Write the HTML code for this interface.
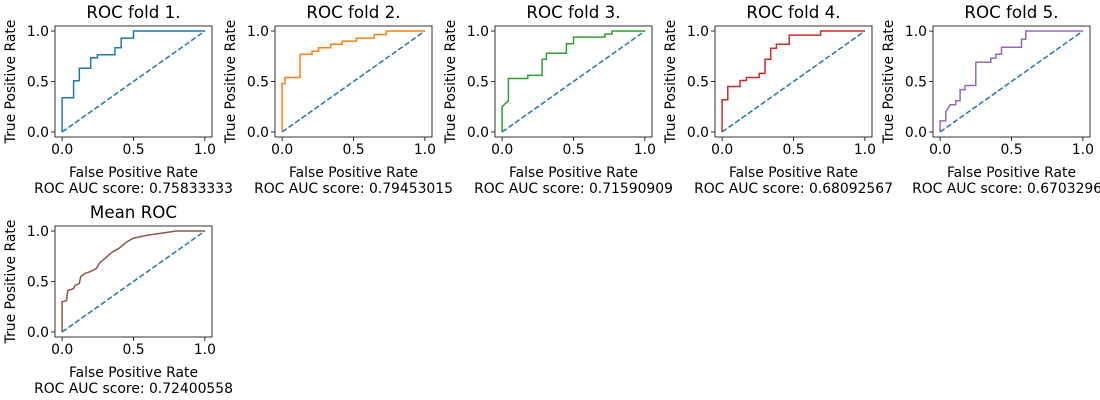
<!DOCTYPE html>
<html><head><meta charset="utf-8"><style>
body{margin:0;background:#fff;width:1100px;height:400px;overflow:hidden}
svg{display:block;font-family:"DejaVu Sans","Liberation Sans",sans-serif}
</style></head><body>
<svg id="chart" width="1100" height="400" viewBox="0 0 1100 400"></svg>
<script>
const titles=["ROC fold 1.","ROC fold 2.","ROC fold 3.","ROC fold 4.","ROC fold 5.","Mean ROC"];
const aucScores=["0.75833333","0.79453015","0.71590909","0.68092567","0.67032967","0.72400558"];
const colors=["#1f77b4","#ff7f0e","#2ca02c","#d62728","#9467bd","#8c564b"];
const tickValues=[0,0.5,1];
const tickLabels=["0.0","0.5","1.0"];
const fpr1=[0,0,0.08,0.08,0.12,0.12,0.2,0.2,0.247,0.247,0.37,0.37,0.414,0.414,0.5,0.5,1];
const tpr1=[0,0.338,0.338,0.507,0.507,0.632,0.632,0.735,0.735,0.765,0.765,0.834,0.834,0.93,0.93,1,1];
const fpr2=[0,0,0.02,0.02,0.126,0.126,0.21,0.21,0.255,0.255,0.34,0.34,0.42,0.42,0.52,0.52,0.645,0.645,0.73,0.73,1];
const tpr2=[0,0.48,0.48,0.54,0.54,0.77,0.77,0.8,0.8,0.835,0.835,0.87,0.87,0.9,0.9,0.93,0.93,0.965,0.965,1,1];
const fpr3=[0,0,0.044,0.044,0.18,0.18,0.28,0.28,0.31,0.31,0.45,0.45,0.5,0.5,0.72,0.72,0.77,0.77,1];
const tpr3=[0,0.25,0.31,0.53,0.53,0.56,0.56,0.72,0.72,0.78,0.78,0.875,0.875,0.94,0.94,0.97,0.97,1,1];
const fpr4=[0,0,0.04,0.04,0.125,0.125,0.17,0.17,0.26,0.26,0.3,0.3,0.34,0.34,0.38,0.38,0.47,0.47,0.69,0.69,1];
const tpr4=[0,0.32,0.32,0.45,0.45,0.51,0.51,0.54,0.54,0.58,0.58,0.72,0.72,0.83,0.83,0.87,0.87,0.96,0.96,1,1];
const fpr5=[0,0,0.04,0.04,0.07,0.11,0.11,0.14,0.14,0.175,0.175,0.25,0.25,0.355,0.355,0.39,0.39,0.43,0.43,0.57,0.57,0.6,0.6,1];
const tpr5=[0,0.11,0.11,0.2,0.27,0.27,0.31,0.31,0.42,0.42,0.46,0.46,0.69,0.69,0.73,0.73,0.77,0.77,0.84,0.84,0.92,0.92,1,1];
const fprM=[0,0,0.03,0.04,0.08,0.09,0.12,0.13,0.16,0.2,0.24,0.26,0.3,0.35,0.4,0.45,0.5,0.6,0.7,0.8,1];
const tprM=[0,0.3,0.31,0.41,0.43,0.46,0.48,0.55,0.58,0.6,0.63,0.68,0.73,0.79,0.83,0.89,0.93,0.96,0.98,1,1];
const fprs=[fpr1,fpr2,fpr3,fpr4,fpr5,fprM];
const tprs=[tpr1,tpr2,tpr3,tpr4,tpr5,tprM];
const panels=[[55,26],[275,26],[495,26],[715,26],[933,26],[55,226]];
const W=157,H=111;
const svg=document.getElementById('chart');
const NS="http://www.w3.org/2000/svg";
function mk(tag,attrs,parent){const e=document.createElementNS(NS,tag);for(const k in attrs)e.setAttribute(k,attrs[k]);parent.appendChild(e);return e;}
panels.forEach((p,i)=>{
  const [L,T]=p;
  const sx=v=>L+(v+0.05)/1.1*W, sy=v=>T+H-(v+0.05)/1.1*H;
  const g=mk('g',{},svg);
  
  
  const t=mk('text',{x:L+W/2,y:T-8,'text-anchor':'middle','font-size':'16.7'},g);t.textContent=titles[i];
  
  
  tickValues.forEach((v,j)=>{
    mk('line',{x1:sx(v),x2:sx(v),y1:T+H,y2:T+H+4,stroke:'#000','stroke-width':0.8},g);
    const xt=mk('text',{x:sx(v),y:T+H+17,'text-anchor':'middle','font-size':'13.9'},g);xt.textContent=tickLabels[j];
    
    
    mk('line',{x1:L-4,x2:L,y1:sy(v),y2:sy(v),stroke:'#000','stroke-width':0.8},g);
    const yt=mk('text',{x:L-6,y:sy(v)+5,'text-anchor':'end','font-size':'13.9'},g);yt.textContent=tickLabels[j];
    
    
  });
  const d=mk('line',{x1:sx(0),y1:sy(0),x2:sx(1),y2:sy(1),stroke:'#1f77b4','stroke-width':1.5,'stroke-dasharray':'5.5,2.4'},g);
  
  
  const pts=fprs[i].map((x,k)=>sx(x).toFixed(1)+','+sy(tprs[i][k]).toFixed(1)).join(' ');
  const c=mk('polyline',{points:pts,fill:'none',stroke:colors[i],'stroke-width':1.5},g);
  
  
  mk('rect',{x:L,y:T,width:W,height:H,fill:'none',stroke:'#000','stroke-width':0.8},g);
  const xl=mk('text',{x:L+W/2,y:T+H+40,'text-anchor':'middle','font-size':'13.9'},g);xl.textContent='False Positive Rate';
  
  
  const au=mk('text',{x:L+W/2,y:T+H+56,'text-anchor':'middle','font-size':'13.9'},g);au.textContent='ROC AUC score: '+aucScores[i];
  
  
  const yx=L-40,yy=T+H/2;
  const yl=mk('text',{x:yx,y:yy,'text-anchor':'middle','font-size':'13.9',transform:`rotate(-90 ${yx} ${yy})`},g);yl.textContent='True Positive Rate';
  
  
});
</script>
</body></html>
